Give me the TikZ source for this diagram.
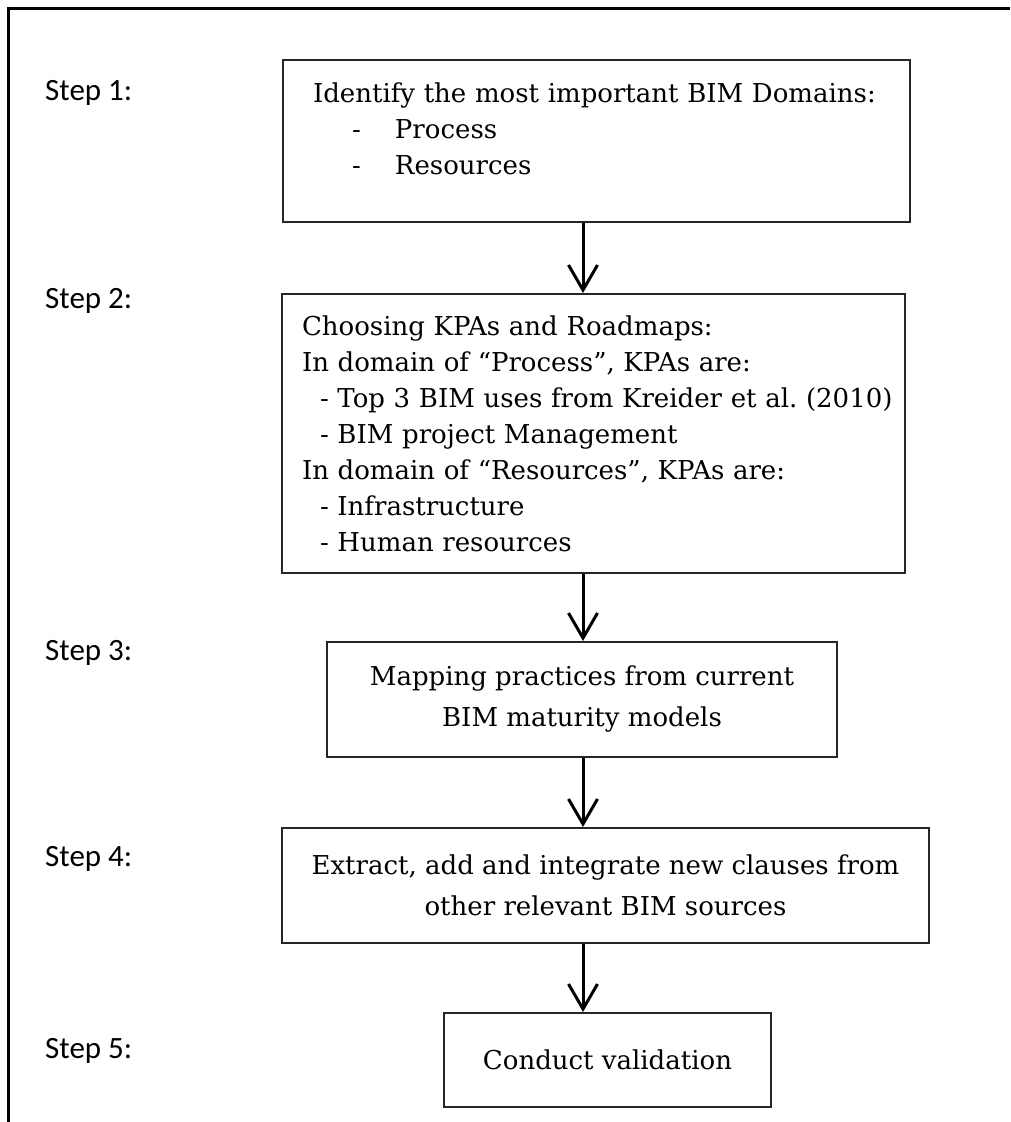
\documentclass[tikz,border=0pt]{standalone}
\usepackage{fontspec}
\setmainfont{DejaVu Serif}
\newfontfamily\stepfont{Carlito}
\usetikzlibrary{arrows.meta,positioning}
\frenchspacing

\begin{document}
\begin{tikzpicture}[x=1pt,y=-1pt]
    \tikzset{
      stepbox/.style={draw=black!85, line width=2pt, rectangle, inner sep=0pt,
        font=\fontsize{26}{36}\selectfont},
      widebox/.style={stepbox, font=\fontsize{26}{41}\selectfont, align=center},
      steplabel/.style={anchor=base west, inner sep=0pt, font=\stepfont\fontsize{31}{36}\selectfont},
      flow/.style={line width=3pt, -{Straight Barb[length=25pt,width=29pt]}},
      column/.style={coordinate}
    }
    \useasboundingbox (0,0) rectangle (1010,1122);
    % frame (top and left edges only)
    \draw[line width=3pt] (8,1122) -- (8,8) -- (1010,8);

    % step labels
    \node[steplabel] (s1) at (45,100) {Step 1:};
    \node[steplabel] (s2) at (45,308) {Step 2:};
    \node[steplabel] (s3) at (45,660) {Step 3:};
    \node[steplabel] (s4) at (45,866) {Step 4:};
    \node[steplabel] (s5) at (45,1058) {Step 5:};

    % boxes
    \node[stepbox, minimum width=627pt, minimum height=162pt, inner xsep=30pt,
      text width=567pt, align=left, text depth=96pt] (b1) at (596.5,141)
      {Identify the most important BIM Domains:\\
       \makebox[82pt][l]{\hspace*{39pt}-}Process\\
       \makebox[82pt][l]{\hspace*{39pt}-}Resources};

    \node[stepbox, minimum width=623pt, minimum height=279pt, inner xsep=20pt,
      text width=583pt, align=left] (b2) at (593.5,433.5)
      {Choosing KPAs and Roadmaps:\\
       In domain of “Process”, KPAs are:\\
       \mbox{\hspace*{18pt}- Top 3 BIM uses from Kreider et al. (2010)}\\
       \hspace*{18pt}- BIM project Management\\
       In domain of “Resources”, KPAs are:\\
       \hspace*{18pt}- Infrastructure\\
       \hspace*{18pt}- Human resources};

    \node[widebox, minimum width=510pt, minimum height=115pt] (b3) at (582,699.5)
      {Mapping practices from current\\BIM maturity models};

    \node[widebox, minimum width=647pt, minimum height=115pt] (b4) at (605.5,885.5)
      {Extract, add and integrate new clauses from\\other relevant BIM sources};

    \node[widebox, minimum width=327pt, minimum height=94pt] (b5) at (607.5,1060)
      {Conduct validation};

    % arrows run down one column
    \coordinate[column] (ax) at (583,0);
    \draw[flow] (b1.south -| ax) -- (b2.north -| ax);
    \draw[flow] (b2.south -| ax) -- (b3.north -| ax);
    \draw[flow] (b3.south -| ax) -- (b4.north -| ax);
    \draw[flow] (b4.south -| ax) -- (b5.north -| ax);
\end{tikzpicture}
\end{document}
